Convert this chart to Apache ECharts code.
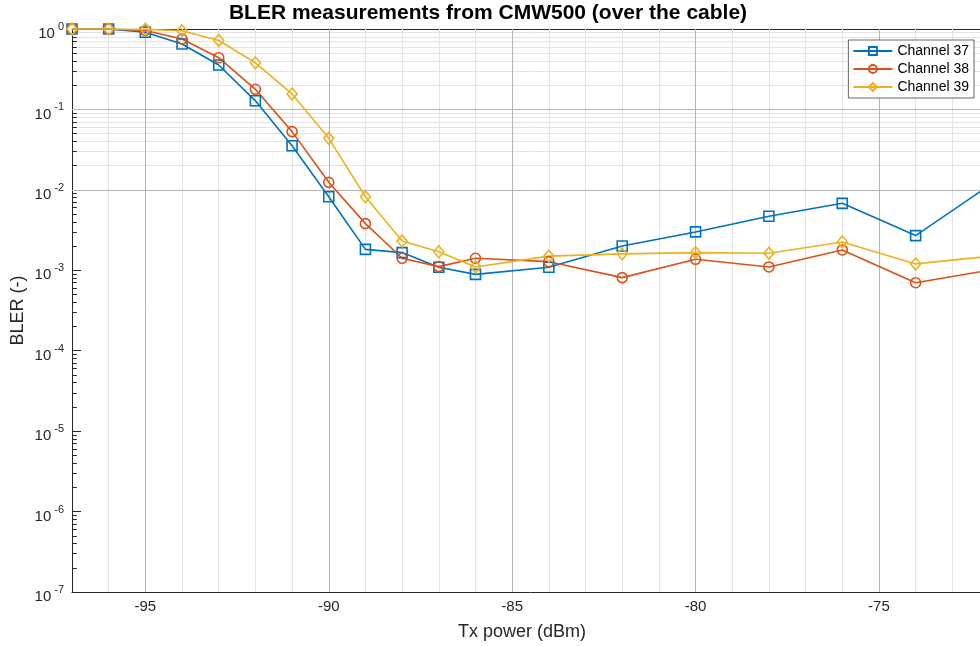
<!DOCTYPE html>
<html>
<head>
<meta charset="utf-8">
<script src="https://cdn.jsdelivr.net/npm/echarts@6/dist/echarts.min.js"></script>
<style>
html,body{margin:0;padding:0;overflow:hidden;background:#fff;width:980px;height:646px;}
#chart{width:989px;height:646px;}
</style>
</head>
<body>
<div id="chart"></div>
<script>
// ---- data ----
var txPower = [-97,-96,-95,-94,-93,-92,-91,-90,-89,-88,-87,-86,-84,-82,-80,-78,-76,-74,-72];
var channel37 = [1, 1, 0.91, 0.65, 0.357, 0.128, 0.0354, 0.0082, 0.00182, 0.00166, 0.00109, 0.00089, 0.00109, 0.002, 0.003, 0.0047, 0.0068, 0.0027, 0.0113];
var channel38 = [1, 1, 0.96, 0.75, 0.44, 0.178, 0.053, 0.0124, 0.0038, 0.00141, 0.00111, 0.00141, 0.00128, 0.00081, 0.00137, 0.0011, 0.00179, 0.0007, 0.001];
var channel39 = [1, 1, 0.99, 0.95, 0.72, 0.38, 0.156, 0.0437, 0.0082, 0.00231, 0.0017, 0.0011, 0.0015, 0.0016, 0.00166, 0.00163, 0.00225, 0.0012, 0.00149];
var seriesNames = ['Channel 37', 'Channel 38', 'Channel 39'];
var xMajorTicks = [-95, -90, -85, -80, -75];
var yDecades = [1e-7, 1e-6, 1e-5, 1e-4, 1e-3, 1e-2, 1e-1, 1];
var titleText = 'BLER measurements from CMW500 (over the cable)';
var xName = 'Tx power (dBm)';
var yName = 'BLER (-)';
var xMin = -97, xMax = -72, yMin = 1e-7, yMax = 1;

// ---- build ----
var colors = ['#0072BD', '#D95319', '#EDB120'];
var symbols = ['rect', 'circle', 'diamond'];
var symbolSizes = [[10,10], 10, [10,12]];
var FONT = "'Liberation Sans', Arial, Helvetica, sans-serif";
var TXT = '#262626';

function pairs(ys){ return txPower.map(function(x,i){ return [x, ys[i]]; }); }

var xMinor = [];
for (var v = xMin + 1; v < xMax; v++) { if (xMajorTicks.indexOf(v) < 0) xMinor.push(v); }
var yMinor = [];
for (var d = 0; d < yDecades.length - 1; d++) {
  for (var k = 2; k <= 9; k++) yMinor.push(k * yDecades[d]);
}

var minorLines = [];
xMinor.forEach(function(v){ minorLines.push({xAxis: v}); });
yMinor.forEach(function(v){ minorLines.push({yAxis: v}); });
var majorLines = [];
xMajorTicks.forEach(function(v){ majorLines.push({xAxis: v}); });
yDecades.slice(1, -1).forEach(function(v){ majorLines.push({yAxis: v}); });
var minorTickMarks = yMinor.map(function(v){ return [{coord:[xMin, v]}, {coord:[xMin + 0.13, v]}]; });

var dataSeries = [channel37, channel38, channel39].map(function(arr, i){
  return {
    name: seriesNames[i], type: 'line', data: pairs(arr), z: 3,
    symbol: symbols[i], symbolSize: symbolSizes[i], showAllSymbol: true,
    lineStyle: {color: colors[i], width: 1.6},
    itemStyle: {color: 'rgba(255,255,255,0)', borderColor: colors[i], borderWidth: 1.6},
    emphasis: {disabled: true}, animation: false
  };
});

function gridSeries(name, z, color, data) {
  return {
    name: name, type: 'line', data: [], z: z, silent: true,
    markLine: {silent: true, z: z, symbol: 'none', label: {show: false}, animation: false,
      emphasis: {disabled: true},
      lineStyle: {color: color, width: 1, type: 'solid'}, data: data}
  };
}

var option = {
  backgroundColor: '#fff',
  animation: false,
  title: {
    text: titleText, left: 483, top: -2, textAlign: 'center',
    textStyle: {fontFamily: FONT, fontSize: 21, fontWeight: 'bold', color: '#000'}
  },
  legend: {
    data: seriesNames, orient: 'vertical', right: 15, top: 40, z: 10,
    itemWidth: 39, itemHeight: 10, itemGap: 4,
    padding: [4, 5, 4, 4],
    backgroundColor: '#fff', borderColor: '#262626', borderWidth: 0.7, borderRadius: 0,
    textStyle: {fontFamily: FONT, fontSize: 14, color: '#000'},
    selectedMode: false
  },
  grid: {left: 72, right: 0, top: 29, bottom: 54, containLabel: false, outerBoundsMode: 'none'},
  xAxis: [{
    type: 'value', min: xMin, max: xMax, splitNumber: 5,
    name: xName, nameLocation: 'middle', nameGap: 31, nameMoveOverlap: false,
    nameTextStyle: {fontFamily: FONT, fontSize: 18, color: TXT, padding: [0, 17, 0, 0]},
    axisLine: {show: true, onZero: false, lineStyle: {color: TXT, width: 1}},
    axisTick: {show: true, inside: true, length: 9, lineStyle: {color: TXT}},
    axisLabel: {fontFamily: FONT, fontSize: 15, color: TXT, margin: 7, showMinLabel: false, showMaxLabel: false},
    splitLine: {show: false}
  }, {
    type: 'value', min: xMin, max: xMax, splitNumber: 5, position: 'top',
    axisLine: {show: true, onZero: false, lineStyle: {color: TXT, width: 1}},
    axisTick: {show: true, inside: true, length: 9, lineStyle: {color: TXT}},
    axisLabel: {show: false}, splitLine: {show: false}
  }],
  yAxis: [{
    type: 'log', logBase: 10, min: yMin, max: yMax,
    name: yName, nameLocation: 'middle', nameGap: 45, nameMoveOverlap: false,
    nameTextStyle: {fontFamily: FONT, fontSize: 18, color: TXT},
    axisLine: {show: true, onZero: false, lineStyle: {color: TXT, width: 1}},
    axisTick: {show: true, inside: true, length: 9, lineStyle: {color: TXT}},
    axisLabel: {
      margin: 8, fontFamily: FONT, color: TXT,
      formatter: function(val){
        var e = Math.round(Math.log10(val));
        return '{b|10}{s|' + e + '}';
      },
      rich: {
        b: {fontFamily: FONT, fontSize: 15, color: TXT, padding: [10, 0, 0, 0]},
        s: {fontFamily: FONT, fontSize: 11, color: TXT, padding: [0, 0, 4, 3]}
      }
    },
    splitLine: {show: false}
  }],
  series: [
    gridSeries('minor', 1, '#e3e3e3', minorLines),
    gridSeries('major', 2, '#b4b4b4', majorLines),
    gridSeries('minorTicks', 2, TXT, minorTickMarks)
  ].concat(dataSeries)
};

var chart = echarts.init(document.getElementById('chart'), null, {renderer: 'canvas'});
chart.setOption(option);
</script>
</body>
</html>
